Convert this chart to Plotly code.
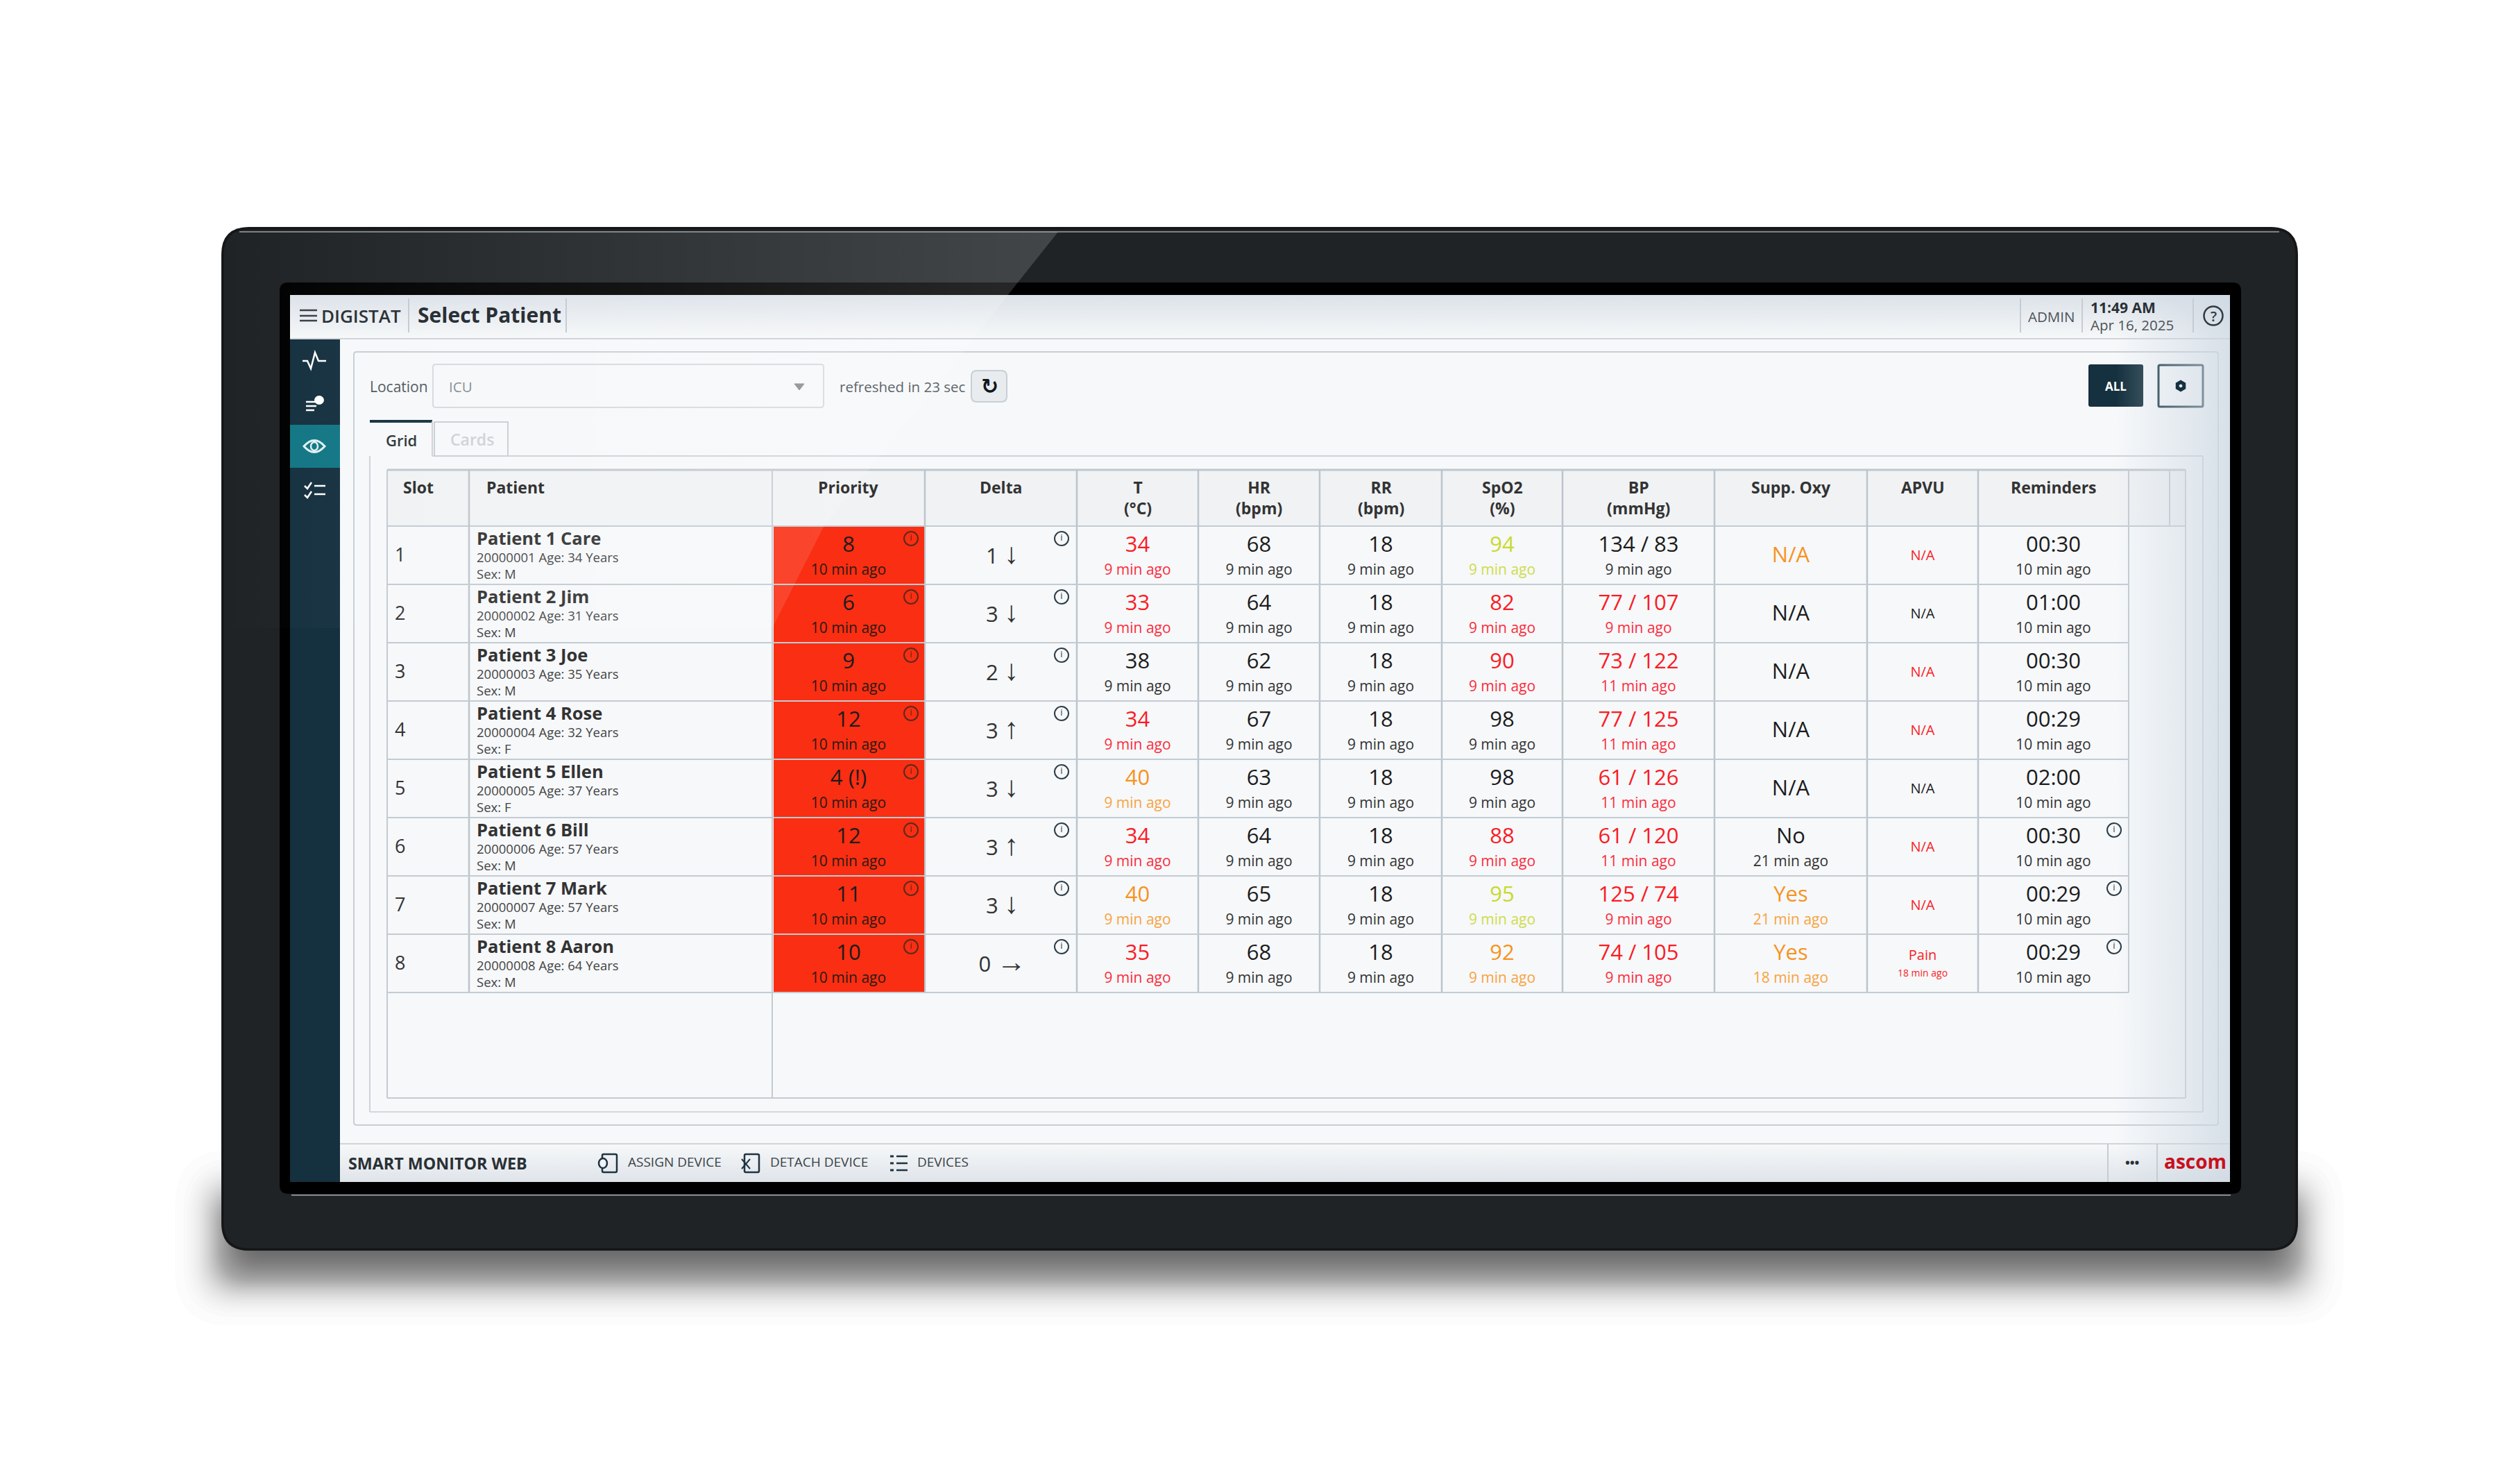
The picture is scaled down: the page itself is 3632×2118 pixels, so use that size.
from statistics import NormalDist

import plotly.graph_objects as go

# patient table values
slots = [1, 2, 3, 4, 5, 6, 7, 8]
names = ["Patient 1 Care", "Patient 2 Jim", "Patient 3 Joe", "Patient 4 Rose",
         "Patient 5 Ellen", "Patient 6 Bill", "Patient 7 Mark", "Patient 8 Aaron"]
patient_ids = ["20000001", "20000002", "20000003", "20000004",
               "20000005", "20000006", "20000007", "20000008"]
ages = [34, 31, 35, 32, 37, 57, 57, 64]
sexes = ["M", "M", "M", "F", "F", "M", "M", "M"]
priority = ["8", "6", "9", "12", "4 (!)", "12", "11", "10"]
delta = [1, 3, 2, 3, 3, 3, 3, 0]
delta_arrow = ["↓", "↓", "↓", "↑", "↓", "↑", "↓", "→"]
temp = [34, 33, 38, 34, 40, 34, 40, 35]
temp_level = ["r", "r", "k", "r", "o", "r", "o", "r"]
hr = [68, 64, 62, 67, 63, 64, 65, 68]
resp = [18, 18, 18, 18, 18, 18, 18, 18]
spo2 = [94, 82, 90, 98, 98, 88, 95, 92]
spo2_level = ["y", "r", "r", "k", "k", "r", "y", "o"]
bp = ["134 / 83", "77 / 107", "73 / 122", "77 / 125", "61 / 126", "61 / 120", "125 / 74", "74 / 105"]
bp_age = ["9 min ago", "9 min ago", "11 min ago", "11 min ago", "11 min ago", "11 min ago", "9 min ago", "9 min ago"]
bp_level = ["k", "r", "r", "r", "r", "r", "r", "r"]
supp = ["N/A", "N/A", "N/A", "N/A", "N/A", "No", "Yes", "Yes"]
supp_age = ["", "", "", "", "", "21 min ago", "21 min ago", "18 min ago"]
supp_level = ["o", "k", "k", "k", "k", "k", "o", "o"]
apvu = ["N/A", "N/A", "N/A", "N/A", "N/A", "N/A", "N/A", "Pain"]
apvu_age = ["", "", "", "", "", "", "", "18 min ago"]
apvu_level = ["r", "k", "r", "r", "k", "r", "r", "r"]
reminders = ["00:30", "01:00", "00:30", "00:29", "02:00", "00:30", "00:29", "00:29"]
reminder_info = [False, False, False, False, False, True, True, True]
headers = ["Slot", "Patient", "Priority", "Delta", "T<br>(°C)", "HR<br>(bpm)", "RR<br>(bpm)",
           "SpO2<br>(%)", "BP<br>(mmHg)", "Supp. Oxy", "APVU", "Reminders"]

# screen geometry, in picture pixels
col_edges = [558, 676, 1113, 1333, 1552, 1727, 1902, 2078, 2252, 2471, 2691, 2851, 3068]
row_edges = [758, 842, 926, 1010, 1094, 1178, 1262, 1346, 1430]
FONT = "Open Sans"
LINE = "#c3cbd2"
NAVY = "#15303f"
COLORS = {"r": "#fb1c24", "o": "#f7931e", "y": "#c9d92c", "k": "#1c1c1c"}
SUB_COLORS = {"r": "#fb2c3a", "o": "#f9a33f", "y": "#cfdc4a", "k": "#333333"}

fig = go.Figure()
shapes = []
layer_now = "below"


def rrect(x0, y0, x1, y1, r):
    return (f"M{x0+r},{y0} L{x1-r},{y0} Q{x1},{y0} {x1},{y0+r} L{x1},{y1-r} Q{x1},{y1} {x1-r},{y1} "
            f"L{x0+r},{y1} Q{x0},{y1} {x0},{y1-r} L{x0},{y0+r} Q{x0},{y0} {x0+r},{y0} Z")


def box(x0, y0, x1, y1, fill=None, line=None, width=2, r=0):
    s = dict(type="path", path=rrect(x0, y0, x1, y1, r), layer=layer_now, line=dict(width=0))
    if fill:
        s["fillcolor"] = fill
    if line:
        s["line"] = dict(color=line, width=width)
    shapes.append(s)


def seg(x0, y0, x1, y1, color=LINE, width=2):
    shapes.append(dict(type="line", x0=x0, y0=y0, x1=x1, y1=y1, layer=layer_now,
                       line=dict(color=color, width=width)))


def stroke(path, color, width=2.5, fill=None):
    s = dict(type="path", path=path, layer=layer_now, line=dict(color=color, width=width))
    if fill:
        s["fillcolor"] = fill
    shapes.append(s)


def dot(x0, y0, x1, y1, fill=None, line=None, width=2.5):
    s = dict(type="circle", x0=x0, y0=y0, x1=x1, y1=y1, layer=layer_now, line=dict(width=0))
    if fill:
        s["fillcolor"] = fill
    if line:
        s["line"] = dict(color=line, width=width)
    shapes.append(s)


def gradient(xs, ys, kind, stops):
    fig.add_trace(go.Scatter(x=xs, y=ys, mode="lines", fill="toself", line=dict(width=0),
                             fillgradient=dict(type=kind, colorscale=stops), hoverinfo="skip"))


def label(text, x, y, size, color="#333333", weight=400, anchor="center", family=FONT):
    fig.add_annotation(x=x, y=y, text=text, showarrow=False, xanchor=anchor, yanchor="middle",
                       font=dict(family=family, size=size, color=color, weight=weight))


def texts(xs, ys, strs, size, colors, weight=400, position="middle center"):
    fig.add_trace(go.Scatter(x=xs, y=ys, text=strs, mode="text", textposition=position,
                             textfont=dict(family=FONT, size=size, color=colors, weight=weight),
                             hoverinfo="skip"))


# soft shadow under the monitor: many faint layers spaced along a bell curve
blur = NormalDist(0, 28)
for i in range(64):
    g = blur.inv_cdf((i + 0.5) / 64)
    shapes.append(dict(type="path", path=rrect(320 - g, 1725 - g, 3310 + g, 1842 + g, 45 + g / 2),
                       layer="below", fillcolor="#000000", opacity=0.0108, line=dict(width=0)))

# bezel
box(319, 327, 3312, 1802, fill="#1f2326", r=40)
stroke(rrect(321, 329, 3310, 1800, 38), "#141618", 3)
seg(345, 334, 3285, 334, "#7d8184", 2)
box(403, 407, 3230, 1720, fill="#000000", r=12)
seg(420, 1722, 3215, 1722, "#85888a", 2)
box(418, 425, 3214, 1703, fill="#f6f8fa")

# sidebar
box(418, 488, 490, 1703, fill=NAVY)
box(418, 612, 490, 674, fill="#127684")

# panels
box(510, 507, 3197, 1621, line="#c8ced3", width=2, r=4)
seg(533, 657, 533, 1602, "#ced3d8")
seg(533, 1602, 3175, 1602, "#d3d8dc")
seg(3175, 657, 3175, 1602, "#ced3d8")
seg(623, 657, 3175, 657, "#ced3d8")
seg(533, 607, 623, 607, NAVY, 4)
seg(623, 607, 623, 657, "#ced3d8")
box(626, 608, 732, 657, line="#c9cfd4", width=2)

# controls
box(624, 525, 1187, 587, line="#d6dadf", width=2, r=4)
box(1400, 534, 1451, 579, fill="#e9ecef", line="#c9cfd4", width=2, r=8)
box(3010, 525, 3089, 586, fill=NAVY, r=3)
box(3111, 526, 3175, 586, line=NAVY, width=3, r=2)

# table frame
box(558, 677, 3150, 758, fill="#f0f2f4")
for x in [558, 3150]:
    seg(x, 677, x, 1582)
seg(558, 677, 3150, 677, "#bfc7ce", 3)
seg(558, 758, 3150, 758)
seg(558, 1582, 3150, 1582)
seg(1113, 677, 1113, 1582)
seg(3127, 677, 3127, 758)
seg(3068, 677, 3068, 1430)
for x in col_edges[1:2] + col_edges[3:-1]:
    seg(x, 677, x, 1430, "#bcc5cc", 2.5)
# priority cells
for i in range(len(slots)):
    box(col_edges[2] + 2, row_edges[i] + 1, col_edges[3] - 1, row_edges[i + 1] - 1, fill="#f92e12")
for y in row_edges[1:]:
    seg(558, y, 3068, y)

# sidebar icons
stroke("M436,520 L443,520 L448,531 L454,508 L459,520 L470,520", "#ffffff", 2.5)
stroke("M441,579 L459,579 M441,585 L456,585 M441,591 L453,591", "#ffffff", 2.5)
dot(453, 570, 467, 583, fill="#ffffff")
stroke("M438,643 Q453,626 468,643 Q453,660 438,643 Z", "#dff1f3", 3)
dot(448, 637, 458, 649, line="#dff1f3")
stroke("M439,700 L443,704 L449,695 M439,713 L443,717 L449,708 M453,700 L469,700 M453,712 L469,712", "#ffffff", 2.5)
stroke("M1145,553 L1159,553 L1152,562 Z", "#8a8f94", 1, fill="#8a8f94")

# screen shading
gradient([418, 3214, 3214, 418, 418], [425, 425, 488, 488, 425], "vertical",
         [[0, "#f6f8f9"], [1, "#dce2e9"]])
gradient([490, 3214, 3214, 490, 490], [1649, 1649, 1703, 1703, 1649], "vertical",
         [[0, "#dfe4ea"], [1, "#f6f8f9"]])
gradient([3050, 3214, 3214, 3050, 3050], [425, 425, 1703, 1703, 425], "horizontal",
         [[0, "rgba(205,216,226,0)"], [1, "rgba(205,216,226,0.75)"]])

# top bar and footer chrome has to sit over the shading traces
layer_now = "above"
seg(418, 488, 3214, 488, "#d0d5da")
seg(490, 1648, 3214, 1648, "#d0d5da")
for x in [589, 816, 2912, 3001, 3161]:
    seg(x, 430, x, 479, "#c6ccd2")
for x in [3038, 3109]:
    seg(x, 1648, x, 1703, "#c6ccd2")
stroke("M432,447 L457,447 M432,455 L457,455 M432,462 L457,462", "#3b4248", 2.5)
stroke(rrect(868, 1663, 889, 1689, 2), "#1f3442", 2.5)
stroke(rrect(1073, 1663, 1094, 1689, 2), "#1f3442", 2.5)
stroke("M1069,1670 L1081,1684 M1081,1670 L1069,1684", "#1f3442", 2)
dot(863, 1669, 875, 1683, fill="#f2f4f6", line="#1f3442")
stroke("M1292,1666 L1308,1666 M1292,1676 L1308,1676 M1292,1686 L1308,1686", "#1f3442", 2.5)
stroke("M1283,1666 L1288,1666 M1283,1676 L1288,1676 M1283,1686 L1288,1686", "#1f3442", 3)

# table text
patient_x = 687
tops = row_edges[:-1]
mains = [priority, [str(v) for v in temp], [str(v) for v in hr], [str(v) for v in resp],
         [str(v) for v in spo2], bp, reminders]
main_cols = [2, 4, 5, 6, 7, 8, 11]
main_levels = [["k"] * 8, temp_level, ["k"] * 8, ["k"] * 8, spo2_level, bp_level, ["k"] * 8]
sub_text = [["10 min ago"] * 8, ["9 min ago"] * 8, ["9 min ago"] * 8, ["9 min ago"] * 8,
            ["9 min ago"] * 8, bp_age, ["10 min ago"] * 8]

for col, vals, levels, subs in zip(main_cols, mains, main_levels, sub_text):
    cx = (col_edges[col] + col_edges[col + 1]) / 2
    texts([cx] * 8, [t + 29 for t in tops], vals, 31, [COLORS[c] for c in levels])
    sub_colors = ["#2a1a14"] * 8 if col == 2 else [SUB_COLORS[c] for c in levels]
    texts([cx] * 8, [t + 65 for t in tops], subs, 21, sub_colors)

for i, t in enumerate(tops):
    # supplementary oxygen sits centred when there is no timestamp
    cx = (col_edges[9] + col_edges[10]) / 2
    if supp_age[i]:
        texts([cx], [t + 29], [supp[i]], 31, [COLORS[supp_level[i]]])
        texts([cx], [t + 65], [supp_age[i]], 21, [SUB_COLORS[supp_level[i]]])
    else:
        texts([cx], [t + 44], [supp[i]], 31, [COLORS[supp_level[i]]])
    cx = (col_edges[10] + col_edges[11]) / 2
    if apvu_age[i]:
        texts([cx], [t + 32], [apvu[i]], 20, [COLORS[apvu_level[i]]])
        texts([cx], [t + 57], [apvu_age[i]], 14, [COLORS[apvu_level[i]]])
    else:
        texts([cx], [t + 44], [apvu[i]], 20, [COLORS[apvu_level[i]]])

cx = (col_edges[3] + col_edges[4]) / 2 + 2
arrow_style = "font-family:'Liberation Sans';font-size:42px"
delta_text = [f"{d} <span style=\"{arrow_style}\">{a}</span>" for d, a in zip(delta, delta_arrow)]
texts([cx] * 8, [t + 46 for t in tops], delta_text, 31, ["#333333"] * 8)
texts([569] * 8, [t + 44 for t in tops], [str(s) for s in slots], 27, ["#333333"] * 8, position="middle right")
texts([patient_x] * 8, [t + 21 for t in tops], names, 25.5, ["#333333"] * 8, weight=700, position="middle right")
texts([patient_x] * 8, [t + 47 for t in tops],
      [f"{p} Age: {a} Years" for p, a in zip(patient_ids, ages)], 18.5, ["#444444"] * 8, position="middle right")
texts([patient_x] * 8, [t + 71 for t in tops], [f"Sex: {s}" for s in sexes], 18.5, ["#444444"] * 8, position="middle right")

# info markers
info_x = [1313] * 8 + [1530] * 8
info_y = [t + 18 for t in tops] * 2
info_c = ["#5c2a1c"] * 8 + ["#2e3d47"] * 8
for i, t in enumerate(tops):
    if reminder_info[i]:
        info_x.append(3047)
        info_y.append(t + 18)
        info_c.append("#2e3d47")
fig.add_trace(go.Scatter(x=info_x, y=info_y, mode="markers+text", text=["i"] * len(info_x),
                         textposition="middle center", textfont=dict(family=FONT, size=13, color=info_c),
                         marker=dict(symbol="circle-open", size=20, color=info_c, line=dict(width=2)),
                         hoverinfo="skip"))

# column headers
for i, h in enumerate(headers):
    cx = (col_edges[i] + col_edges[i + 1]) / 2
    if h == "Patient":
        fig.add_annotation(x=699, y=684, text=h, showarrow=False, xanchor="left", yanchor="top",
                           font=dict(family=FONT, size=23, color="#333333", weight=700))
    elif h == "Slot":
        fig.add_annotation(x=603, y=684, text=h, showarrow=False, xanchor="center", yanchor="top",
                           font=dict(family=FONT, size=23, color="#333333", weight=700))
    else:
        fig.add_annotation(x=cx, y=684, text=h, showarrow=False, xanchor="center", yanchor="top", align="center",
                           font=dict(family=FONT, size=23, color="#333333", weight=700))

# glare across the top left of the monitor
gradient([319, 1525, 1187, 1113, 319, 319], [334, 334, 759, 905, 905, 334], "horizontal",
         [[0, "rgba(255,255,255,0)"], [1, "rgba(255,255,255,0.16)"]])

# interface labels
label("DIGISTAT", 461, 455, 26, "#2c3338", 600, "left")
label("Select Patient", 600, 453, 30, "#2a3035", 700, "left")
label("ADMIN", 2956, 456, 20.5, "#4c5358")
label("11:49 AM", 3011, 443, 21, "#2a3035", 700, "left")
label("Apr 16, 2025", 3011, 468, 20.5, "#4c5358", 400, "left")
label("?", 3190, 455, 20, "#333b40", 600)
fig.add_trace(go.Scatter(x=[3190], y=[455], mode="markers", hoverinfo="skip",
                         marker=dict(symbol="circle-open", size=27, color="#333b40", line=dict(width=2.5))))
label("Location", 531, 557, 21, "#555b60", 400, "left")
label("ICU", 645, 557, 20.5, "#8a9095", 400, "left")
label("refreshed in 23 sec", 1208, 557, 20.5, "#5f656a", 400, "left")
label("↻", 1426, 556, 30, "#11181d", 700, family="DejaVu Sans")
label("Grid", 578, 634, 22, "#333b40", 600)
label("Cards", 680, 633, 23, "#d0d4d8", 600)
label("ALL", 3049, 556, 17, "#ffffff", 700)
fig.add_trace(go.Scatter(x=[3143], y=[556], mode="markers", hoverinfo="skip",
                         marker=dict(symbol="hexagon-open", size=11, color=NAVY, line=dict(width=5))))
label("SMART MONITOR WEB", 500, 1676, 23.3, "#2a3035", 700, "left")
label("ASSIGN DEVICE", 903, 1674, 19, "#3a4248", 400, "left")
label("DETACH DEVICE", 1108, 1674, 19, "#3a4248", 400, "left")
label("DEVICES", 1320, 1674, 19, "#3a4248", 400, "left")
label("•••", 3073, 1675, 18, "#2a3035", 700)
label("ascom", 3164, 1673, 28, "#c8101e", 700)

fig.update_layout(
    width=3632, height=2118, margin=dict(l=0, r=0, t=0, b=0), paper_bgcolor="#ffffff", plot_bgcolor="#ffffff",
    showlegend=False, shapes=shapes,
    xaxis=dict(range=[0, 3632], visible=False, fixedrange=True),
    yaxis=dict(range=[2118, 0], visible=False, fixedrange=True),
)
fig.write_html("out.html", post_script="document.body.style.margin='0';", config={"displayModeBar": False})
